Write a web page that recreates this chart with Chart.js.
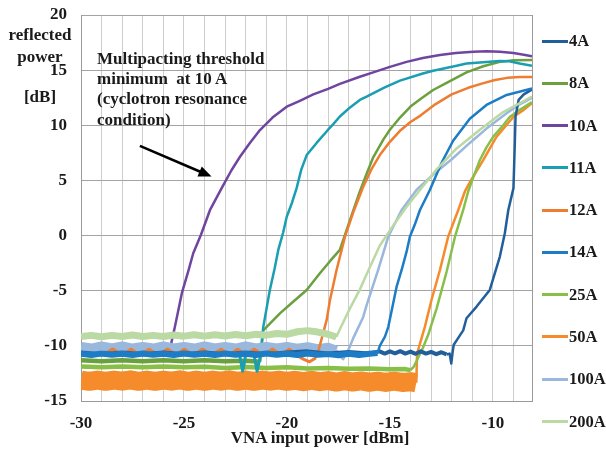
<!DOCTYPE html>
<html><head><meta charset="utf-8">
<script src="https://cdn.jsdelivr.net/npm/chart.js@4.4.1/dist/chart.umd.min.js"></script>
<style>
html,body{margin:0;padding:0;background:#fff;}
#wrap{position:relative;width:606px;height:450px;overflow:hidden;background:#fff;}
.t{position:absolute;font-family:"Liberation Serif","Times New Roman",serif;font-weight:bold;color:#1a1a1a;white-space:pre;font-size:17px;line-height:20px;}
.c{transform:translate(-50%,-50%);}
.l{transform:translateY(-50%);}
.lg{position:absolute;height:3px;width:26px;}
</style></head><body>
<div id="wrap"><canvas id="c"></canvas></div>
<script>
// ---------- data ----------
const seriesNames = ['4A','8A','10A','11A','12A','14A','25A','50A','100A','200A'];

const s4A = [[-30,-10.6],[-29,-10.75],[-28,-10.6],[-27,-10.75],[-26,-10.6],[-25,-10.75],[-24,-10.6],[-23,-10.75],[-22,-10.6],[-21,-10.75],[-20,-10.6],[-19,-10.5],[-18,-10.7],[-17,-10.55],[-16,-10.7],
 [-15.5,-10.5],[-15.25,-10.7],[-15,-10.5],[-14.75,-10.68],[-14.5,-10.48],[-14.25,-10.7],[-14,-10.52],[-13.75,-10.72],[-13.5,-10.5],[-13.25,-10.7],[-13,-10.55],[-12.75,-10.75],[-12.5,-10.58],[-12.25,-10.78],[-12.1,-10.7],
 [-12.02,-11.6],[-11.95,-10.5],[-11.9,-9.9],[-11.76,-9.5],[-11.44,-8.6],[-11.28,-7.5],[-10.79,-6.44],[-10.15,-4.93],[-9.66,-1.9],[-9.42,0.21],[-9.25,2.32],[-9.0,4.3],[-8.93,8.67],[-8.9,10.8],[-8.75,12.3],[-8.5,12.8],[-8.1,13.25]];

const s8A = [[-30,-11.3],[-29,-11.4],[-28,-11.3],[-27,-11.4],[-26,-11.3],[-25,-11.4],[-24,-11.3],[-23,-11.4],[-22,-11.35],[-21.3,-11.45],
 [-21.15,-8.6],[-20.34,-7.05],[-19.7,-6.0],[-19.04,-4.93],[-18.4,-3.42],[-17.9,-2.3],[-17.43,-1.3],[-16.94,1.4],[-16.46,4.0],[-16.13,5.6],[-15.81,7.1],[-15.32,8.7],[-15.0,9.6],[-14.51,10.7],[-14.0,11.7],[-13.5,12.4],[-12.9,13.2],[-12.2,13.9],[-11.28,14.8],[-10.47,15.35],[-9.66,15.75],[-9.0,15.9],[-8.1,15.92]];

const s10A = [[-30,-10.8],[-28,-10.8],[-26,-10.8],[-25.7,-10.8],[-25.6,-9.6],[-25.44,-8.26],[-25.1,-5.2],[-24.8,-3.3],[-24.55,-1.6],[-24.17,0.1],[-23.74,2.3],[-23.17,4.3],[-22.7,5.9],[-22.28,7.15],[-21.8,8.4],[-21.31,9.57],[-20.7,10.7],[-20.01,11.69],[-19.4,12.2],[-18.72,12.8],[-18.0,13.3],[-17.43,13.75],[-16.46,14.4],[-15.81,14.8],[-15.0,15.3],[-14.19,15.75],[-13.4,16.1],[-12.57,16.37],[-11.8,16.55],[-10.95,16.67],[-10.3,16.72],[-9.66,16.67],[-9.0,16.55],[-8.5,16.4],[-8.1,16.25]];

const s11A = [[-30,-10.8],[-27,-10.8],[-24,-10.8],[-22.3,-10.8],[-22.15,-12.3],[-22.0,-10.8],[-21.6,-10.8],[-21.45,-12.3],[-21.3,-11.0],
 [-21.15,-8.3],[-20.83,-4.93],[-20.6,-3.0],[-20.42,-1.3],[-20.18,0.3],[-20.01,1.71],[-19.75,3.0],[-19.53,4.3],[-19.3,6.0],[-19.04,7.3],[-18.56,8.4],[-18.0,9.6],[-17.75,10.1],[-17.43,10.8],[-16.95,11.6],[-16.46,12.3],[-16.13,12.6],[-15.3,13.4],[-14.51,14.05],[-13.4,14.7],[-12.9,14.95],[-11.76,15.4],[-11.28,15.6],[-10.15,15.75],[-9.66,15.83],[-9.2,15.8],[-8.7,15.6],[-8.1,15.4]];

const s12A = [[-30,-10.8],[-29.3,-10.8],[-28.9,-10.75],[-28.46,-10.3],[-28.0,-10.8],[-27.57,-10.3],[-27.15,-10.8],[-26.7,-10.3],[-26.25,-10.8],[-25.79,-10.3],[-25.4,-10.8],[-24.98,-10.3],[-24.55,-10.8],[-24.09,-10.3],[-23.65,-10.8],[-23.2,-10.3],[-22.8,-10.8],[-22.39,-10.3],[-22.0,-10.8],[-21.59,-10.3],[-21.15,-10.8],[-20.69,-10.3],[-20.3,-10.8],[-19.89,-10.3],[-19.5,-10.9],[-19.2,-11.2],[-18.9,-11.45],[-18.6,-11.1],
 [-18.45,-10.3],[-18.07,-7.65],[-17.91,-5.84],[-17.59,-3.12],[-17.18,-0.1],[-16.78,2.1],[-16.3,4.4],[-15.9,6.0],[-15.49,7.3],[-15.0,8.5],[-14.51,9.5],[-14.0,10.3],[-13.5,10.9],[-12.8,11.9],[-12.0,12.8],[-11.2,13.4],[-10.5,13.8],[-9.9,14.1],[-9.3,14.3],[-8.7,14.38],[-8.1,14.38]];

const s14A = [[-30,-10.72],[-29.5,-10.82],[-29,-10.7],[-28.5,-10.8],[-28,-10.72],[-27.5,-10.82],[-27,-10.7],[-26.5,-10.8],[-26,-10.72],[-25.5,-10.82],[-25,-10.7],[-24.5,-10.8],[-24,-10.72],[-23.5,-10.82],[-23,-10.7],[-22.5,-10.8],[-22,-10.72],[-21.5,-10.82],[-21,-10.7],[-20.5,-10.8],[-20,-10.72],[-19.5,-10.82],[-19,-10.7],[-18.5,-10.8],[-18,-10.75],[-17.5,-10.85],[-17,-10.72],[-16.5,-10.82],[-16,-10.72],[-15.6,-10.65],
 [-15.49,-10.0],[-15.24,-9.17],[-15.08,-8.3],[-14.84,-6.14],[-14.67,-4.6],[-14.43,-3.12],[-14.19,-1.46],[-14.03,-0.1],[-13.79,1.0],[-13.54,2.32],[-13.06,4.13],[-12.49,6.6],[-11.93,8.6],[-11.12,10.6],[-10.31,11.84],[-9.33,12.75],[-8.1,13.35]];

const s25A = [[-30,-11.88],[-29,-11.95],[-28,-11.88],[-27,-11.95],[-26,-11.88],[-25,-11.95],[-24,-11.9],[-23,-12.0],[-22,-11.92],[-21,-12.0],[-20,-11.95],[-19,-12.05],[-18,-12.0],[-17,-12.08],[-16,-12.05],[-15,-12.12],[-14.3,-12.1],[-14.0,-12.2],
 [-13.85,-11.9],[-13.71,-11.4],[-13.4,-10.2],[-13.14,-9.0],[-12.73,-6.6],[-12.25,-3.3],[-11.84,-0.1],[-11.44,2.32],[-11.2,4.0],[-10.95,5.3],[-10.63,6.85],[-10.31,8.0],[-9.98,8.97],[-9.5,10.0],[-9.17,10.78],[-8.69,11.4],[-8.1,12.1]];

const s50A = [[-30,-13.1],[-29.6,-13.22],[-29.2,-13.1],[-28.8,-13.22],[-28.4,-13.1],[-28,-13.2],[-27.6,-13.08],[-27.2,-13.22],[-26.8,-13.1],[-26.4,-13.22],[-26,-13.1],[-25.6,-13.2],[-25.2,-13.08],[-24.8,-13.22],[-24.4,-13.1],[-24,-13.22],[-23.6,-13.1],[-23.2,-13.2],[-22.8,-13.08],[-22.4,-13.22],[-22,-13.1],[-21.6,-13.22],[-21.2,-13.1],[-20.8,-13.2],[-20.4,-13.1],[-20,-13.22],[-19.6,-13.12],[-19.2,-13.25],[-18.8,-13.12],[-18.4,-13.25],[-18,-13.15],[-17.6,-13.28],[-17.2,-13.15],[-16.8,-13.28],[-16.4,-13.18],[-16,-13.3],[-15.6,-13.2],[-15.2,-13.32],[-14.8,-13.2],[-14.4,-13.32],[-14.0,-13.25],[-13.72,-13.35],
 [-13.68,-10.7],[-13.3,-8.26],[-12.98,-5.84],[-12.57,-3.12],[-12.17,-0.1],[-11.68,2.32],[-11.36,4.0],[-11.1,4.9],[-10.47,6.85],[-9.82,8.97],[-9.0,10.78],[-8.5,11.4],[-8.1,12.0]];

const s100A = [[-30,-10.05],[-29.5,-10.2],[-29,-10.0],[-28.5,-10.18],[-28,-10.0],[-27.5,-10.2],[-27,-10.05],[-26.5,-10.2],[-26,-10.0],[-25.5,-10.18],[-25,-10.05],[-24.5,-10.2],[-24,-10.0],[-23.5,-10.18],[-23,-10.05],[-22.5,-10.2],[-22,-10.0],[-21.5,-10.18],[-21,-10.05],[-20.5,-10.2],[-20,-10.05],[-19.5,-10.22],[-19,-10.08],[-18.5,-10.25],[-18,-10.12],[-17.6,-10.4],
 [-17.4,-11.0],[-17.27,-11.2],[-17.0,-10.3],[-16.78,-9.3],[-16.3,-7.4],[-16.13,-6.3],[-15.57,-3.12],[-15.08,-0.1],[-14.43,2.32],[-13.71,4.13],[-12.8,5.7],[-12.01,6.9],[-11.12,8.4],[-10.31,9.7],[-9.33,11.1],[-8.7,11.9],[-8.1,12.5]];

const s200A = [[-30,-9.15],[-29.5,-9.05],[-29,-9.18],[-28.5,-9.05],[-28,-9.15],[-27.5,-9.02],[-27,-9.15],[-26.5,-9.05],[-26,-9.15],[-25.5,-9.02],[-25,-9.12],[-24.5,-9.0],[-24,-9.12],[-23.5,-9.0],[-23,-9.1],[-22.5,-8.97],[-22,-9.08],[-21.5,-8.95],[-21,-9.03],[-20.5,-8.88],[-20,-8.95],[-19.5,-8.72],[-19,-8.62],[-18.5,-8.75],[-18,-8.95],[-17.6,-9.2],
 [-17.43,-8.5],[-16.94,-6.6],[-16.46,-4.9],[-16.13,-3.5],[-15.49,-0.9],[-14.84,0.9],[-14.19,2.62],[-13.54,4.13],[-12.73,6.0],[-11.76,7.9],[-10.63,9.6],[-9.5,11.2],[-8.1,12.6]];

const seriesData = [s4A, s8A, s10A, s11A, s12A, s14A, s25A, s50A, s100A, s200A];

const yTickValues = [-15, -10, -5, 0, 5, 10, 15, 20];
const xTickLabelValues = [-30, -25, -20, -15, -10];
const xMin = -30, xMax = -8.1, xStep = 1;
const yMin = -15, yMax = 20, yStep = 5;

const annotationLines = ['Multipacting threshold', 'minimum  at 10 A', '(cyclotron resonance', 'condition)'];
const yTitleLines = ['reflected', 'power', '[dB]'];
const xTitle = 'VNA input power [dBm]';
const arrowFrom = [-27.14, 8.13];
const arrowTo = [-23.66, 5.35];

// ---------- styles ----------
const seriesStyles = [
  {color:'#225F9A', band:4,   bandEnd:-12.2,  order:3},
  {color:'#6AA03E', band:4.5, bandEnd:-21.3,  order:8},
  {color:'#7045A0', band:3,   bandEnd:-25.7,  order:7},
  {color:'#1A9EB2', band:3,   bandEnd:-21.3,  order:6},
  {color:'#EE7D31', band:3,   bandEnd:-18.5,  order:4},
  {color:'#1C7CC6', band:6,   bandEnd:-15.6,  order:2},
  {color:'#88BF48', band:4.5, bandEnd:-14.0,  order:9},
  {color:'#F68B2B', band:19,  bandEnd:-13.72, order:10},
  {color:'#9AB7DC', band:9,   bandEnd:-17.6,  order:5},
  {color:'#BAD9A3', band:7,   bandEnd:-17.6,  order:1}
];
const FONT = '"Liberation Serif", "Times New Roman", serif';
const TEXT = '#1a1a1a';

const datasets = seriesNames.map((name, i) => {
  const st = seriesStyles[i];
  const d = seriesData[i];
  return {
    label: name,
    data: d,
    borderColor: st.color,
    backgroundColor: st.color,
    borderWidth: 2.5,
    pointRadius: 0,
    tension: 0,
    fill: false,
    order: st.order,
    borderJoinStyle: 'round',
    segment: {
      borderWidth: c => (d[c.p1DataIndex][0] <= st.bandEnd ? st.band : 2.5)
    }
  };
});

const deco = {
  id: 'deco',
  beforeDatasetsDraw(chart) {
    const {ctx, chartArea: a} = chart;
    ctx.save();
    ctx.strokeStyle = '#9a9a9a'; ctx.lineWidth = 1;
    ctx.beginPath(); ctx.moveTo(Math.round(a.right) + 0.5, a.top); ctx.lineTo(Math.round(a.right) + 0.5, a.bottom); ctx.stroke();
    ctx.restore();
  },
  afterDatasetsDraw(chart) {
    const {ctx, scales: {x, y}} = chart;
    const x0 = x.getPixelForValue(arrowFrom[0]), y0 = y.getPixelForValue(arrowFrom[1]);
    const x1 = x.getPixelForValue(arrowTo[0]), y1 = y.getPixelForValue(arrowTo[1]);
    const ang = Math.atan2(y1 - y0, x1 - x0), L = 13, W = 5.5;
    const bx = x1 - L * Math.cos(ang), by = y1 - L * Math.sin(ang);
    ctx.save();
    ctx.strokeStyle = '#000'; ctx.fillStyle = '#000'; ctx.lineWidth = 2.6;
    ctx.beginPath(); ctx.moveTo(x0, y0); ctx.lineTo(bx + 2 * Math.cos(ang), by + 2 * Math.sin(ang)); ctx.stroke();
    ctx.beginPath(); ctx.moveTo(x1, y1);
    ctx.lineTo(bx - W * Math.sin(ang), by + W * Math.cos(ang));
    ctx.lineTo(bx + W * Math.sin(ang), by - W * Math.cos(ang));
    ctx.closePath(); ctx.fill();
    ctx.restore();
  }
};

const chart = new Chart(document.getElementById('c'), {
  type: 'line',
  data: { datasets },
  options: {
    responsive: true,
    maintainAspectRatio: false,
    devicePixelRatio: 1,
    animation: false,
    events: [],
    layout: { padding: { top: 15, right: 74, left: 0, bottom: 0 } },
    plugins: { legend: { display: false }, tooltip: { enabled: false }, title: { display: false } },
    scales: {
      x: {
        type: 'linear', min: xMin, max: xMax,
        afterFit: s => { s.height = 49; s.paddingLeft = 0; s.paddingRight = 0; },
        grid: { color: '#cdcdcd', lineWidth: 1, drawTicks: false },
        border: { color: '#9a9a9a', width: 1 },
        ticks: {
          stepSize: xStep, includeBounds: false, autoSkip: false, maxRotation: 0, minRotation: 0, padding: 12,
          color: TEXT, font: { family: FONT, size: 17, weight: 'bold' },
          callback: v => (xTickLabelValues.includes(v) ? String(v) : '')
        }
      },
      y: {
        type: 'linear', min: yMin, max: yMax,
        afterFit: s => { s.width = 81; s.paddingTop = 0; s.paddingBottom = 0; },
        grid: { color: '#a3a3a3', lineWidth: 1, drawTicks: false },
        border: { color: '#9a9a9a', width: 1 },
        ticks: {
          stepSize: yStep, padding: 14, color: TEXT,
          font: { family: FONT, size: 17, weight: 'bold' },
          callback: v => (yTickValues.includes(v) ? String(v) : '')
        }
      }
    }
  },
  plugins: [deco]
});

// ---------- text overlays and legend ----------
const wrap = document.getElementById('wrap');
function addText(txt, x, y, cls, size) {
  const el = document.createElement('div');
  el.className = 't ' + cls;
  el.textContent = txt;
  el.style.left = x + 'px';
  el.style.top = y + 'px';
  if (size) el.style.fontSize = size + 'px';
  wrap.appendChild(el);
}
const yTitleY = [35, 57, 97];
yTitleLines.forEach((t, i) => addText(t, 40, yTitleY[i], 'c'));
addText(xTitle, 320, 438, 'c');
annotationLines.forEach((t, i) => addText(t, 97, 58.7 + i * 20.3, 'l'));

seriesNames.forEach((name, i) => {
  const cy = 41 + i * 42.28;
  const ln = document.createElement('div');
  ln.className = 'lg';
  ln.style.left = '542px';
  ln.style.top = (cy - 1.5) + 'px';
  ln.style.background = seriesStyles[i].color;
  wrap.appendChild(ln);
  addText(name, 569, cy, 'l', 16.5);
});
</script>
</body></html>
